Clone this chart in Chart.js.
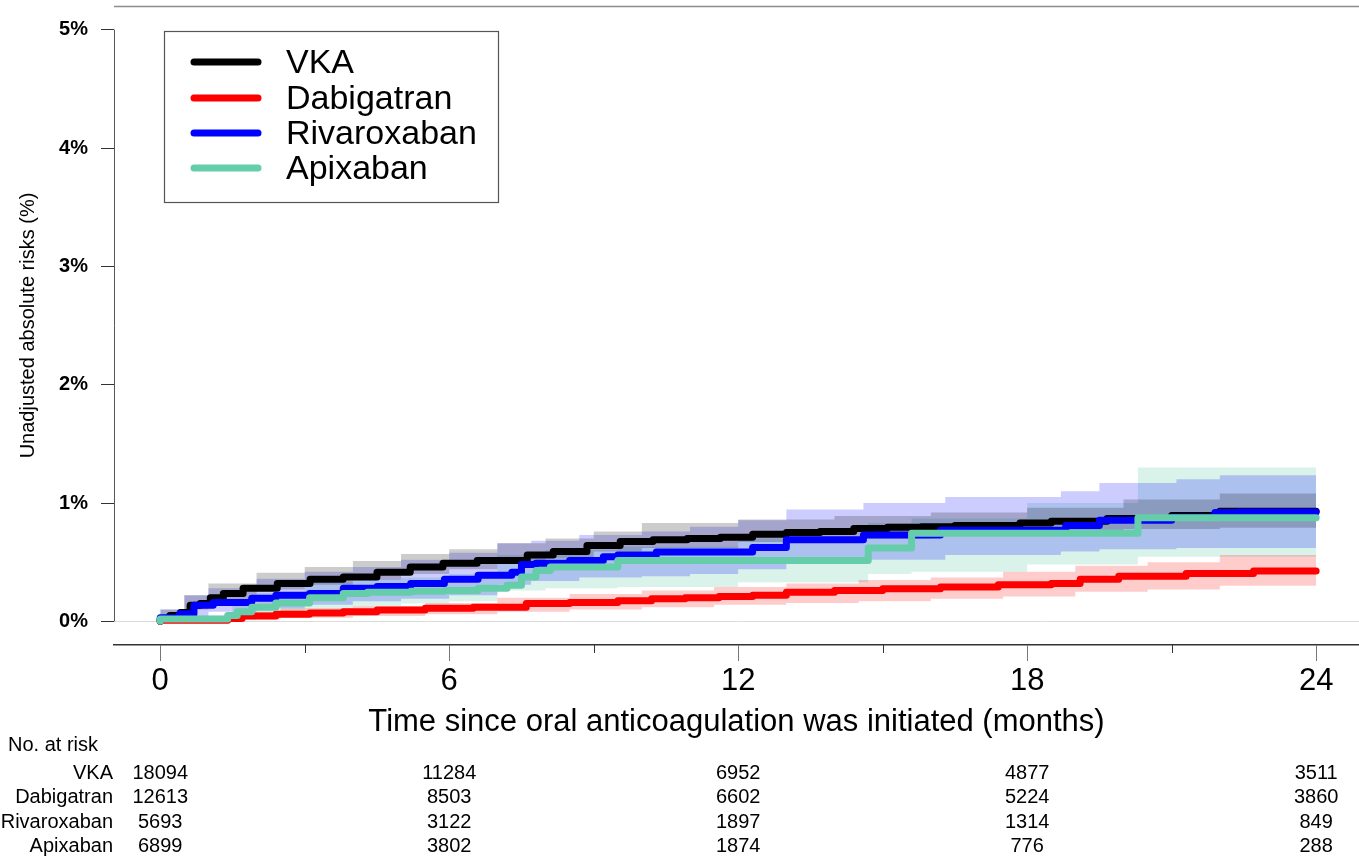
<!DOCTYPE html>
<html>
<head>
<meta charset="utf-8">
<script src="https://cdn.jsdelivr.net/npm/chart.js@4.4.0/dist/chart.umd.min.js"></script>
<style>
  body { margin: 0; background: #fff; }
  #wrap { width: 1359px; height: 861px; }
</style>
</head>
<body>
<div id="wrap"><canvas id="km" width="1359" height="861"></canvas></div>
<script>
// treatment groups and their colours
const groups = ['VKA', 'Dabigatran', 'Rivaroxaban', 'Apixaban'];
const lineColors = ['#000000', '#ff0000', '#0000ff', '#66cdaa'];
const bandColors = ['rgba(0,0,0,0.2)', 'rgba(255,0,0,0.2)', 'rgba(0,0,255,0.2)', 'rgba(102,205,170,0.25)'];

// axes
const monthTicks = [0, 6, 12, 18, 24];
const minorTicks = [3, 9, 15, 21];
const riskTicks = [0, 1, 2, 3, 4, 5];

// numbers at risk at 0, 6, 12, 18, 24 months
const atRiskVKA = [18094, 11284, 6952, 4877, 3511];
const atRiskDab = [12613, 8503, 6602, 5224, 3860];
const atRiskRiv = [5693, 3122, 1897, 1314, 849];
const atRiskApx = [6899, 3802, 1874, 776, 288];

// absolute risk (%) step curves
const vkaTime = [0, 0.2, 0.42, 0.62, 0.83, 1.04, 1.31, 1.72, 2.43, 3.11, 3.8, 4.5, 5.19, 5.87, 6.58, 7.62, 8.16, 8.86, 9.55, 10.23, 10.94, 11.63, 12.3, 13.0, 13.7, 14.4, 15.1, 15.8, 16.5, 17.85, 18.5, 19.66, 21.0, 22.0, 23.6, 24];
const vkaRisk = [0, 0.02, 0.05, 0.075, 0.135, 0.15, 0.20, 0.235, 0.28, 0.32, 0.355, 0.375, 0.415, 0.46, 0.49, 0.515, 0.56, 0.59, 0.64, 0.675, 0.69, 0.70, 0.71, 0.735, 0.75, 0.76, 0.785, 0.795, 0.80, 0.81, 0.83, 0.845, 0.87, 0.895, 0.93, 0.93];
const vkaCiTime = [0, 0.5, 1, 2, 3, 4, 5, 6, 7, 8, 9, 10, 12, 14, 16, 18, 20, 22, 23, 24];
const vkaLower = [0, 0.03, 0.10, 0.18, 0.27, 0.31, 0.35, 0.40, 0.44, 0.49, 0.53, 0.59, 0.62, 0.67, 0.70, 0.73, 0.75, 0.78, 0.79, 0.79];
const vkaUpper = [0, 0.10, 0.22, 0.32, 0.41, 0.46, 0.51, 0.57, 0.61, 0.66, 0.70, 0.76, 0.83, 0.86, 0.89, 0.92, 0.96, 1.03, 1.08, 1.08];

const dabTime = [0, 1.4, 1.7, 2.4, 3.1, 3.8, 4.5, 5.5, 6.5, 7.6, 8.5, 9.5, 10.2, 10.9, 11.6, 12.3, 13.0, 14.0, 15.0, 16.2, 17.4, 18.5, 19.1, 19.9, 21.3, 22.7, 23.6, 24];
const dabRisk = [0, 0.01, 0.025, 0.045, 0.06, 0.07, 0.08, 0.095, 0.11, 0.12, 0.15, 0.16, 0.175, 0.19, 0.20, 0.21, 0.22, 0.245, 0.26, 0.275, 0.29, 0.31, 0.32, 0.355, 0.38, 0.405, 0.425, 0.425];
const dabCiTime = [0, 1.5, 2.5, 4, 5.5, 7, 8.5, 10, 11.5, 13, 14.5, 16, 17.5, 19, 20.5, 22, 23, 24];
const dabLower = [0, 0, 0.015, 0.03, 0.045, 0.06, 0.08, 0.10, 0.12, 0.14, 0.155, 0.17, 0.19, 0.21, 0.25, 0.27, 0.30, 0.30];
const dabUpper = [0, 0.03, 0.08, 0.11, 0.13, 0.155, 0.20, 0.23, 0.26, 0.29, 0.32, 0.35, 0.37, 0.42, 0.47, 0.50, 0.56, 0.56];

const rivTime = [0, 0.4, 0.7, 1.1, 1.9, 2.4, 3.1, 3.8, 4.5, 5.2, 5.9, 6.6, 7.3, 7.5, 7.8, 8.5, 9.2, 9.5, 10.3, 12.3, 13.0, 14.6, 16.2, 18.8, 19.5, 21.0, 21.9, 22.4, 24];
const rivRisk = [0, 0.03, 0.065, 0.135, 0.16, 0.195, 0.22, 0.235, 0.28, 0.295, 0.32, 0.355, 0.39, 0.415, 0.48, 0.49, 0.515, 0.545, 0.56, 0.585, 0.625, 0.69, 0.73, 0.77, 0.81, 0.855, 0.88, 0.92, 0.925];
const rivCiTime = [0, 0.5, 1, 2, 3, 4, 5, 6, 7, 7.7, 8.7, 10, 11, 12, 13, 14.6, 16.3, 18.7, 19.5, 21.1, 22, 23.2, 24];
const rivLower = [0, 0, 0.04, 0.08, 0.11, 0.14, 0.17, 0.19, 0.22, 0.31, 0.34, 0.37, 0.38, 0.40, 0.44, 0.49, 0.52, 0.56, 0.59, 0.61, 0.62, 0.62, 0.62];
const rivUpper = [0, 0.10, 0.22, 0.28, 0.36, 0.42, 0.46, 0.52, 0.58, 0.66, 0.68, 0.73, 0.76, 0.80, 0.855, 0.945, 1.0, 1.05, 1.10, 1.17, 1.20, 1.235, 1.235];

const apxTime = [0, 1.4, 1.6, 1.9, 2.4, 3.1, 3.8, 4.3, 5.2, 5.9, 6.6, 7.2, 7.5, 7.8, 8.1, 9.5, 14.7, 15.6, 20.3, 22.0, 24];
const apxRisk = [0, 0.02, 0.05, 0.08, 0.12, 0.155, 0.2, 0.235, 0.245, 0.255, 0.26, 0.28, 0.305, 0.375, 0.43, 0.46, 0.515, 0.62, 0.745, 0.875, 0.875];
const apxCiTime = [0, 1.5, 2, 3, 4, 5, 6, 7, 8, 9.5, 12, 14.7, 15.6, 18, 20.3, 22, 24];
const apxLower = [0, 0, 0.01, 0.05, 0.10, 0.13, 0.15, 0.17, 0.26, 0.28, 0.29, 0.33, 0.40, 0.42, 0.48, 0.545, 0.545];
const apxUpper = [0, 0.05, 0.13, 0.24, 0.33, 0.35, 0.37, 0.40, 0.56, 0.60, 0.63, 0.70, 0.83, 0.87, 1.00, 1.30, 1.30];

const FONT = "'Liberation Sans', Arial, sans-serif";

function pts(t, v) {
    return t.map((x, i) => ({ x: x, y: v[i] }));
}

const series = [
    { time: vkaTime, risk: vkaRisk, ciTime: vkaCiTime, lower: vkaLower, upper: vkaUpper, atRisk: atRiskVKA },
    { time: dabTime, risk: dabRisk, ciTime: dabCiTime, lower: dabLower, upper: dabUpper, atRisk: atRiskDab },
    { time: rivTime, risk: rivRisk, ciTime: rivCiTime, lower: rivLower, upper: rivUpper, atRisk: atRiskRiv },
    { time: apxTime, risk: apxRisk, ciTime: apxCiTime, lower: apxLower, upper: apxUpper, atRisk: atRiskApx }
];

const datasets = [];
// confidence bands first (drawn underneath)
series.forEach((s, i) => {
    datasets.push({
        label: groups[i] + ' lower', data: pts(s.ciTime, s.lower), stepped: 'after',
        borderWidth: 0, borderColor: 'transparent', pointRadius: 0, fill: false, order: 10
    });
    datasets.push({
        label: groups[i] + ' upper', data: pts(s.ciTime, s.upper), stepped: 'after',
        borderWidth: 0, borderColor: 'transparent', pointRadius: 0, fill: '-1',
        backgroundColor: bandColors[i], order: 10
    });
});
// estimate lines, apixaban ends up on top
series.forEach((s, i) => {
    datasets.push({
        label: groups[i], data: pts(s.time, s.risk), stepped: 'after',
        borderColor: lineColors[i], borderWidth: 7, borderCapStyle: 'round', borderJoinStyle: 'round',
        pointRadius: 0, fill: false, order: 4 - i
    });
});

// extra bits R draws that Chart.js does not: frame, short ticks, legend box, risk table
const decorations = {
    id: 'decorations',
    afterDraw(chart) {
        const { ctx, chartArea, scales: { x, y } } = chart;
        ctx.save();

        // top frame line
        ctx.strokeStyle = '#8c8c8c';
        ctx.lineWidth = 1.5;
        ctx.beginPath();
        ctx.moveTo(chartArea.left, chartArea.top + 0.5);
        ctx.lineTo(chartArea.right, chartArea.top + 0.5);
        ctx.stroke();

        // y axis line only from 0% to 5%
        ctx.strokeStyle = '#555';
        ctx.lineWidth = 1;
        ctx.beginPath();
        ctx.moveTo(chartArea.left + 0.5, y.getPixelForValue(0));
        ctx.lineTo(chartArea.left + 0.5, y.getPixelForValue(5));
        ctx.stroke();

        // minor x ticks
        ctx.strokeStyle = '#333';
        minorTicks.forEach(m => {
            const px = Math.round(x.getPixelForValue(m)) + 0.5;
            ctx.beginPath();
            ctx.moveTo(px, chartArea.bottom);
            ctx.lineTo(px, chartArea.bottom + 8);
            ctx.stroke();
        });

        // legend
        ctx.strokeStyle = '#555';
        ctx.lineWidth = 1.2;
        ctx.strokeRect(164.5, 31.5, 334, 171);
        const rowY = [62, 98, 133, 168];
        ctx.font = '34px ' + FONT;
        ctx.textAlign = 'left';
        ctx.textBaseline = 'middle';
        groups.forEach((g, i) => {
            ctx.strokeStyle = lineColors[i];
            ctx.lineWidth = 7;
            ctx.lineCap = 'round';
            ctx.beginPath();
            ctx.moveTo(194, rowY[i]);
            ctx.lineTo(258, rowY[i]);
            ctx.stroke();
            ctx.fillStyle = '#000';
            ctx.fillText(g, 286, rowY[i] + 2);
        });

        // numbers at risk
        ctx.font = '20px ' + FONT;
        ctx.fillStyle = '#000';
        ctx.textAlign = 'left';
        ctx.fillText('No. at risk', 8, 745);
        const tableY = [773, 797, 822, 846];
        series.forEach((s, i) => {
            ctx.textAlign = 'right';
            ctx.fillText(groups[i], 113, tableY[i]);
            ctx.textAlign = 'center';
            s.atRisk.forEach((n, k) => {
                ctx.fillText(String(n), x.getPixelForValue(monthTicks[k]), tableY[i]);
            });
        });

        ctx.restore();
    }
};

new Chart(document.getElementById('km'), {
    type: 'line',
    data: { datasets: datasets },
    options: {
        responsive: false,
        animation: false,
        layout: { autoPadding: false, padding: { left: 0, right: 0, top: 6, bottom: 116 } },
        plugins: { legend: { display: false }, tooltip: { enabled: false } },
        scales: {
            x: {
                type: 'linear',
                min: -0.96,
                max: 24.89,
                afterBuildTicks: scale => { scale.ticks = monthTicks.map(v => ({ value: v })); },
                afterFit: scale => { scale.height = 100; scale.paddingLeft = 0; scale.paddingRight = 0; },
                ticks: { color: '#000', font: { family: FONT, size: 31 }, padding: 2, maxRotation: 0 },
                grid: { drawOnChartArea: false, tickLength: 16, tickColor: '#777', lineWidth: 1 },
                border: { display: true, color: '#333', width: 1.5 },
                title: {
                    display: true, text: 'Time since oral anticoagulation was initiated (months)',
                    color: '#000', font: { family: FONT, size: 31 }, padding: { top: 0, bottom: 4 }
                }
            },
            y: {
                type: 'linear',
                min: -0.2,
                max: 5.2,
                afterBuildTicks: scale => { scale.ticks = riskTicks.map(v => ({ value: v })); },
                afterFit: scale => { scale.width = 114; scale.paddingTop = 0; scale.paddingBottom = 0; },
                ticks: {
                    color: '#000', padding: 13,
                    font: { family: FONT, size: 20, weight: 'bold' },
                    callback: v => v + '%'
                },
                grid: {
                    drawOnChartArea: true, tickLength: 13, tickColor: '#333',
                    color: c => (c.tick && c.tick.value === 0) ? '#dcdcdc' : 'rgba(0,0,0,0)'
                },
                border: { display: false },
                title: {
                    display: true, text: 'Unadjusted absolute risks (%)',
                    color: '#000', font: { family: FONT, size: 20 }, padding: { top: 16, bottom: 0 }
                }
            }
        }
    },
    plugins: [decorations]
});
</script>
</body>
</html>
